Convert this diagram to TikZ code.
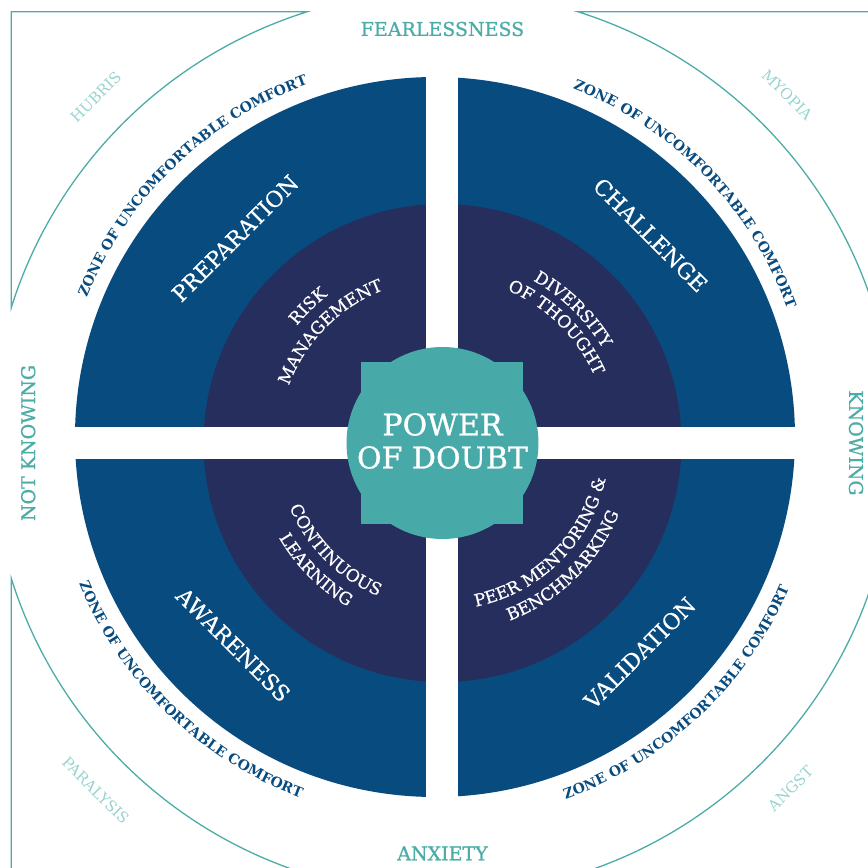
\documentclass[tikz,border=0pt]{standalone}
\usepackage{fontspec}
\setmainfont{DejaVu Serif}
\newfontfamily\medserif[FakeBold=0.9]{DejaVu Serif}
\newfontfamily\semiserif[FakeBold=0.5]{DejaVu Serif}
\usepackage{tikz}
\usetikzlibrary{decorations.text}
\usepackage{xcolor}
\definecolor{QuadBlue}{RGB}{8, 75, 127}
\definecolor{InnerNavy}{RGB}{38, 46, 94}
\definecolor{CoreTeal}{RGB}{72, 169, 169}
\definecolor{FrameTeal}{RGB}{76, 172, 166}
\definecolor{PaleTeal}{RGB}{152, 211, 207}
\newcommand{\zonefont}{\fontsize{14}{16}\selectfont\bfseries}
\newcommand{\innerfont}{\semiserif\fontsize{17}{20}\selectfont}
\tikzset{%
  frame_line/.style={%
    draw=FrameTeal,%
    line width=1.3pt,%
    line join=miter%
  },
  quad_label/.style={%
    text=white,%
    inner sep=0pt,%
    font={\semiserif\fontsize{22}{26}\selectfont}%
  },
  side_label/.style={%
    text=FrameTeal,%
    inner sep=0pt,%
    font={\medserif\fontsize{19}{22}\selectfont}%
  },
  corner_label/.style={%
    text=PaleTeal,%
    inner sep=0pt,%
    font={\fontsize{15}{18}\selectfont}%
  },
  core_label/.style={%
    text=white,%
    align=center,%
    inner sep=0pt,%
    font={\medserif\fontsize{30}{33}\selectfont}%
  },
  zone_text/.style={%
    decorate,%
    decoration={text along path, text align=center, text color=QuadBlue}%
  },
  inner_text/.style={%
    decorate,%
    decoration={text along path, text align=center, text color=white}%
  },
}

\begin{document}
\begin{tikzpicture}[x=1pt, y=1pt]
    \useasboundingbox (-442.5, -425) rectangle (425.5, 443);

    \coordinate (Hub) at (0, 0);
    \coordinate (BlueHub) at (-7.5, 6);

    % outer corners
    \foreach \q in {0, 90, 180, 270} {
      \draw [frame_line, rotate=\q]
        (17.4:452) -- (431.25, 431.25) -- (72.6:452)
        arc [start angle=72.6, end angle=17.4, radius=452] -- cycle;
    }

    % rings and gaps
    \fill [QuadBlue] (BlueHub) circle (360);
    \fill [InnerNavy] (Hub) circle (239);
    \fill [white] (-16, -372) rectangle (16, 372);
    \fill [white] (-372, -16) rectangle (372, 16);
    \fill [CoreTeal] (Hub) circle (96);
    \fill [CoreTeal] (-81, -81) rectangle (81, 81);

    \node [core_label] (Core) at (0, 2) {POWER\\OF DOUBT};

    \node [side_label] (Fearlessness) at (0, 414) {FEARLESSNESS};
    \node [side_label] (Anxiety) at (0, -410.5) {ANXIETY};
    \node [side_label, rotate=90] (NotKnowing) at (-414.3, 0) {NOT KNOWING};
    \node [side_label, rotate=-90] (Knowing) at (413.5, 0) {KNOWING};

    \node [corner_label, rotate=45] (Hubris) at (-346.7, 345.8) {HUBRIS};
    \node [corner_label, rotate=-45] (Myopia) at (344.7, 348) {MYOPIA};
    \node [corner_label, rotate=-45] (Paralysis) at (-346.7, -347.5) {PARALYSIS};
    \node [corner_label, rotate=45] (Angst) at (348, -345.8) {ANGST};

    \node [quad_label, rotate=45] (Preparation) at (-207.5, 204.7) {PREPARATION};
    \node [quad_label, rotate=-45] (Challenge) at (208, 208) {CHALLENGE};
    \node [quad_label, rotate=-45] (Awareness) at (-209.2, -201.7) {AWARENESS};
    \node [quad_label, rotate=45] (Validation) at (197.2, -210) {VALIDATION};

    % zone of uncomfortable comfort
    \path [zone_text, decoration={text={|\zonefont|ZONE OF UNCOMFORTABLE COMFORT}}]
      (BlueHub) ++(184:375) arc [start angle=184, end angle=84, radius=375];
    \path [zone_text, decoration={text={|\zonefont|ZONE OF UNCOMFORTABLE COMFORT}}]
      (BlueHub) ++(94.2:375) arc [start angle=94.2, end angle=-5.8, radius=375];
    \path [zone_text, decoration={text={|\zonefont|ZONE OF UNCOMFORTABLE COMFORT}}]
      (BlueHub) ++(176:385) arc [start angle=176, end angle=276, radius=385];
    \path [zone_text, decoration={text={|\zonefont|ZONE OF UNCOMFORTABLE COMFORT}}]
      (BlueHub) ++(263.4:385) arc [start angle=263.4, end angle=363.4, radius=385];

    % inner ring
    \path [inner_text, decoration={text={|\innerfont|RISK}}]
      (Hub) ++(184.5:187) arc [start angle=184.5, end angle=84.5, radius=187];
    \path [inner_text, decoration={text={|\innerfont|MANAGEMENT}}]
      (Hub) ++(185.3:164) arc [start angle=185.3, end angle=85.3, radius=164];
    \path [inner_text, decoration={text={|\innerfont|DIVERSITY}}]
      (Hub) ++(95.7:186) arc [start angle=95.7, end angle=-4.3, radius=186];
    \path [inner_text, decoration={text={|\innerfont|OF THOUGHT}}]
      (Hub) ++(95.5:166) arc [start angle=95.5, end angle=-4.5, radius=166];
    \path [inner_text, decoration={text={|\innerfont|CONTINUOUS}}]
      (Hub) ++(175:166) arc [start angle=175, end angle=275, radius=166];
    \path [inner_text, decoration={text={|\innerfont|LEARNING}}]
      (Hub) ++(175:189) arc [start angle=175, end angle=275, radius=189];
    \path [inner_text, decoration={text={|\innerfont|PEER MENTORING {\&}}}]
      (Hub) ++(264.6:167) arc [start angle=264.6, end angle=364.6, radius=167];
    \path [inner_text, decoration={text={|\innerfont|BENCHMARKING}}]
      (Hub) ++(264.5:190) arc [start angle=264.5, end angle=364.5, radius=190];
\end{tikzpicture}
\end{document}
